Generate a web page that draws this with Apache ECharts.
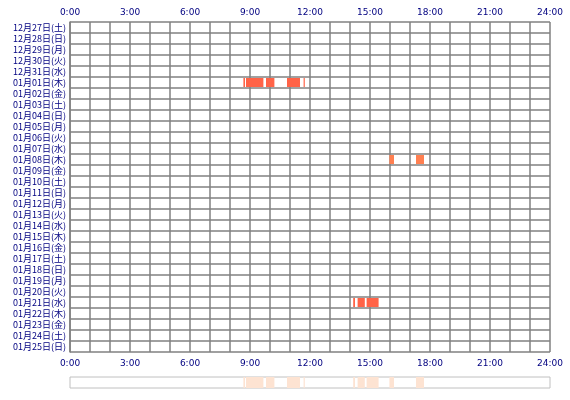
<!DOCTYPE html>
<html>
<head>
<meta charset="utf-8">
<script src="https://cdn.jsdelivr.net/npm/echarts@6/dist/echarts.min.js"></script>
<style>html,body{margin:0;padding:0;background:#fff}#c{width:570px;height:400px}</style>
</head>
<body>
<div id="c"></div>
<script>
const days = [
  '12月27日(土)', '12月28日(日)', '12月29日(月)', '12月30日(火)', '12月31日(水)',
  '01月01日(木)', '01月02日(金)', '01月03日(土)', '01月04日(日)', '01月05日(月)',
  '01月06日(火)', '01月07日(水)', '01月08日(木)', '01月09日(金)', '01月10日(土)',
  '01月11日(日)', '01月12日(月)', '01月13日(火)', '01月14日(水)', '01月15日(木)',
  '01月16日(金)', '01月17日(土)', '01月18日(日)', '01月19日(月)', '01月20日(火)',
  '01月21日(水)', '01月22日(木)', '01月23日(金)', '01月24日(土)', '01月25日(日)'
]

// [day index, start hour, end hour]
const sessions = [
  [5, 8.67, 8.75], [5, 8.8, 9.67], [5, 9.8, 10.22], [5, 10.85, 11.5], [5, 11.68, 11.74],
  [12, 15.97, 16.2], [12, 17.3, 17.7],
  [25, 14.16, 14.25], [25, 14.38, 14.74], [25, 14.83, 15.43]
]

const hourTicks = [0, 3, 6, 9, 12, 15, 18, 21, 24]

const chart = echarts.init(document.getElementById('c'))

const label = {
  color: '#000080', fontSize: 9, fontFamily: 'DejaVu Sans',
  formatter: v => (hourTicks.includes(v) ? v + ':00' : '')
}

const rect = (colorFn, gridY) => (params, api) => {
  const s = api.coord([api.value(1), api.value(0)])
  const e = api.coord([api.value(2), api.value(0)])
  const h = gridY ? 11 : api.size([0, 1])[1] - 2
  return {
    type: 'rect',
    shape: { x: s[0], y: s[1] - h / 2, width: Math.max(e[0] - s[0], 1), height: h },
    style: { fill: colorFn(api.value(0)) }
  }
}

chart.setOption({
  animation: false,
  grid: [
    { left: 70, right: 20, top: 22, height: 330 },
    { left: 70, right: 20, top: 377, height: 11, show: true, borderColor: '#c0c0c0', borderWidth: 1 }
  ],
  xAxis: [
    {
      gridIndex: 0, type: 'value', min: 0, max: 24, interval: 1, position: 'bottom',
      axisLine: { show: false }, axisTick: { show: false }, axisLabel: { ...label, margin: 7 },
      splitLine: { lineStyle: { color: '#808080', width: 1.5 } }
    },
    {
      gridIndex: 0, type: 'value', min: 0, max: 24, interval: 1, position: 'top',
      axisLine: { show: false }, axisTick: { show: false }, axisLabel: { ...label, margin: 5 },
      splitLine: { show: false }
    },
    {
      gridIndex: 1, type: 'value', min: 0, max: 24, show: false
    }
  ],
  yAxis: [
    {
      gridIndex: 0, type: 'category', data: days, inverse: true,
      axisLine: { lineStyle: { color: '#808080', width: 1.5 } }, axisTick: { show: false },
      axisLabel: { color: '#000080', fontSize: 9, margin: 4, interval: 0, fontFamily: 'Noto Sans CJK JP' },
      splitLine: { show: true, interval: 0, lineStyle: { color: '#808080', width: 1.5 } }
    },
    { gridIndex: 1, type: 'category', data: ['all'], show: false }
  ],
  series: [
    {
      type: 'custom', xAxisIndex: 0, yAxisIndex: 0,
      renderItem: rect(d => (d === 12 ? '#ff7f50' : '#ff6347')),
      encode: { x: [1, 2], y: 0 }, data: sessions
    },
    {
      type: 'custom', xAxisIndex: 2, yAxisIndex: 1,
      renderItem: rect(() => '#fde3d2', true),
      encode: { x: [1, 2], y: 0 }, data: sessions.map(s => [0, s[1], s[2]])
    }
  ]
})
</script>
</body>
</html>
